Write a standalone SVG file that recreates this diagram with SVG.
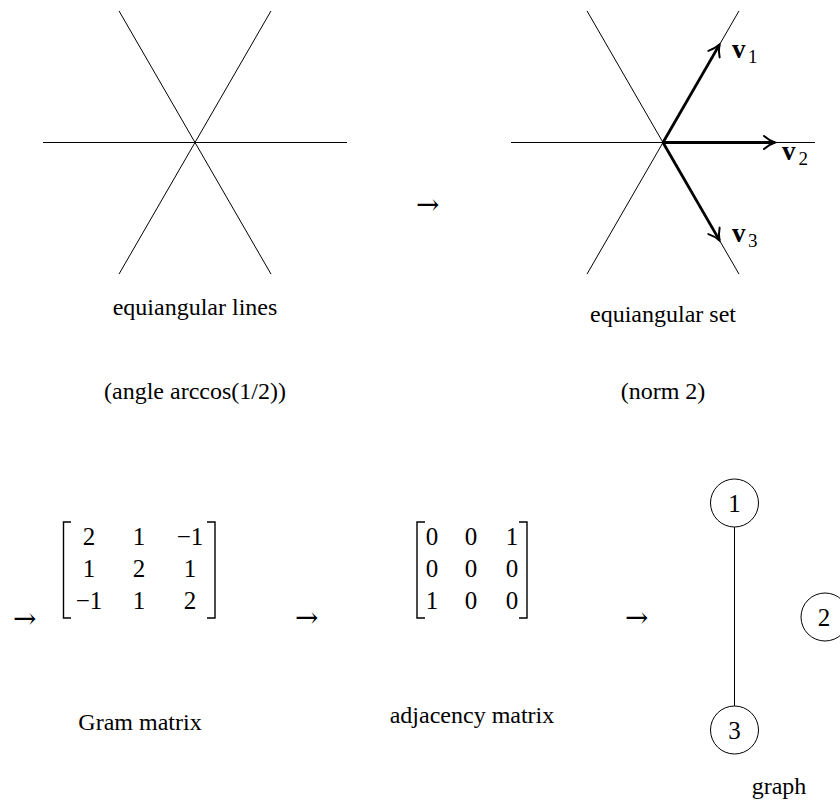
<svg xmlns="http://www.w3.org/2000/svg" width="840" height="803" viewBox="0 0 840 803">
<style>
  .t { font-family: "Liberation Serif", "Times New Roman", serif; font-size: 24px; fill: #000; }
  .m { font-family: "Liberation Serif", "Times New Roman", serif; font-size: 25px; fill: #000; text-anchor: middle; }
  .c { text-anchor: middle; }
  .thin { stroke: #000; stroke-width: 1; fill: none; }
  .vec { stroke: #000; stroke-width: 2.8; fill: none; marker-end: url(#tip); }
  .br { stroke: #000; stroke-width: 1.4; fill: none; }
  .vb { font-family: "Liberation Serif", "Times New Roman", serif; font-size: 27px; font-weight: bold; fill: #000; }
  .sub { font-family: "Liberation Serif", "Times New Roman", serif; font-size: 19px; fill: #000; }
  .node circle { fill: #fff; stroke: #000; stroke-width: 1; }
  .arr { font-family: "DejaVu Serif", "DejaVu Sans", serif; font-size: 28px; font-weight: 300; fill: #000; }
</style>
<defs>
  <marker id="tip" viewBox="-14 -9 16 18" refX="0" refY="0" markerWidth="16" markerHeight="18" orient="auto" markerUnits="userSpaceOnUse">
    <path d="M -11,-6.5 C -7,-3 -3,-1 0,0 C -3,1 -7,3 -11,6.5" fill="none" stroke="#000" stroke-width="2" stroke-linecap="round"/>
  </marker>
</defs>

<g id="equiangular-lines">
  <line class="thin" x1="43" y1="142.5" x2="347" y2="142.5"/>
  <line class="thin" x1="119" y1="10.9" x2="271" y2="274.1"/>
  <line class="thin" x1="271" y1="10.9" x2="119" y2="274.1"/>
  <text class="t c" x="195" y="315">equiangular lines</text>
  <text class="t c" x="195" y="399">(angle arccos(1/2))</text>
</g>

<text id="arrow-top" class="arr" x="416" y="214">→</text>

<g id="equiangular-set">
  <line class="thin" x1="511" y1="142.5" x2="815" y2="142.5"/>
  <line class="thin" x1="587" y1="10.9" x2="739" y2="274.1"/>
  <line class="thin" x1="739" y1="10.9" x2="587" y2="274.1"/>
  <line class="vec" x1="663" y1="142.5" x2="719.5" y2="44.6"/>
  <line class="vec" x1="663" y1="142.5" x2="775" y2="142.5"/>
  <line class="vec" x1="663" y1="142.5" x2="719.5" y2="240.4"/>
  <text class="vb" x="732" y="58">v</text><text class="sub" x="748" y="63">1</text>
  <text class="vb" x="782" y="160">v</text><text class="sub" x="798.5" y="165">2</text>
  <text class="vb" x="732" y="241.5">v</text><text class="sub" x="748" y="246.5">3</text>
  <text class="t c" x="663" y="322">equiangular set</text>
  <text class="t c" x="663" y="399">(norm 2)</text>
</g>

<text id="arrow-gram" class="arr" x="13" y="628">→</text>

<g id="gram-matrix">
  <path class="br" d="M 71,522 H 63.5 V 618 H 71"/>
  <path class="br" d="M 207,522 H 215 V 618 H 207"/>
  <text class="m" x="89" y="545">2</text><text class="m" x="139" y="545">1</text><text class="m" x="190" y="545">−1</text>
  <text class="m" x="89" y="577">1</text><text class="m" x="139" y="577">2</text><text class="m" x="190" y="577">1</text>
  <text class="m" x="89" y="609">−1</text><text class="m" x="139" y="609">1</text><text class="m" x="190" y="609">2</text>
  <text class="t c" x="140" y="730">Gram matrix</text>
</g>

<text id="arrow-adj" class="arr" x="295" y="627">→</text>

<g id="adjacency-matrix">
  <path class="br" d="M 425,522 H 417 V 618 H 425"/>
  <path class="br" d="M 519,522 H 527 V 618 H 519"/>
  <text class="m" x="432" y="545">0</text><text class="m" x="471" y="545">0</text><text class="m" x="512" y="545">1</text>
  <text class="m" x="432" y="577">0</text><text class="m" x="471" y="577">0</text><text class="m" x="512" y="577">0</text>
  <text class="m" x="432" y="609">1</text><text class="m" x="471" y="609">0</text><text class="m" x="512" y="609">0</text>
  <text class="t c" x="472" y="723">adjacency matrix</text>
</g>

<text id="arrow-graph" class="arr" x="625" y="627">→</text>

<g id="connectors">
  <line class="thin" x1="734.5" y1="527" x2="734.5" y2="706"/>
</g>

<g id="node-1" class="node">
  <circle cx="734.5" cy="503" r="24"/>
  <text class="m" x="734.5" y="511.5">1</text>
</g>
<g id="node-2" class="node">
  <circle cx="825" cy="617" r="24"/>
  <text class="m" x="824" y="625.5">2</text>
</g>
<g id="node-3" class="node">
  <circle cx="734.5" cy="730" r="24"/>
  <text class="m" x="734.5" y="738.5">3</text>
</g>

<text id="graph-label" class="t c" x="779" y="794">graph</text>
</svg>
